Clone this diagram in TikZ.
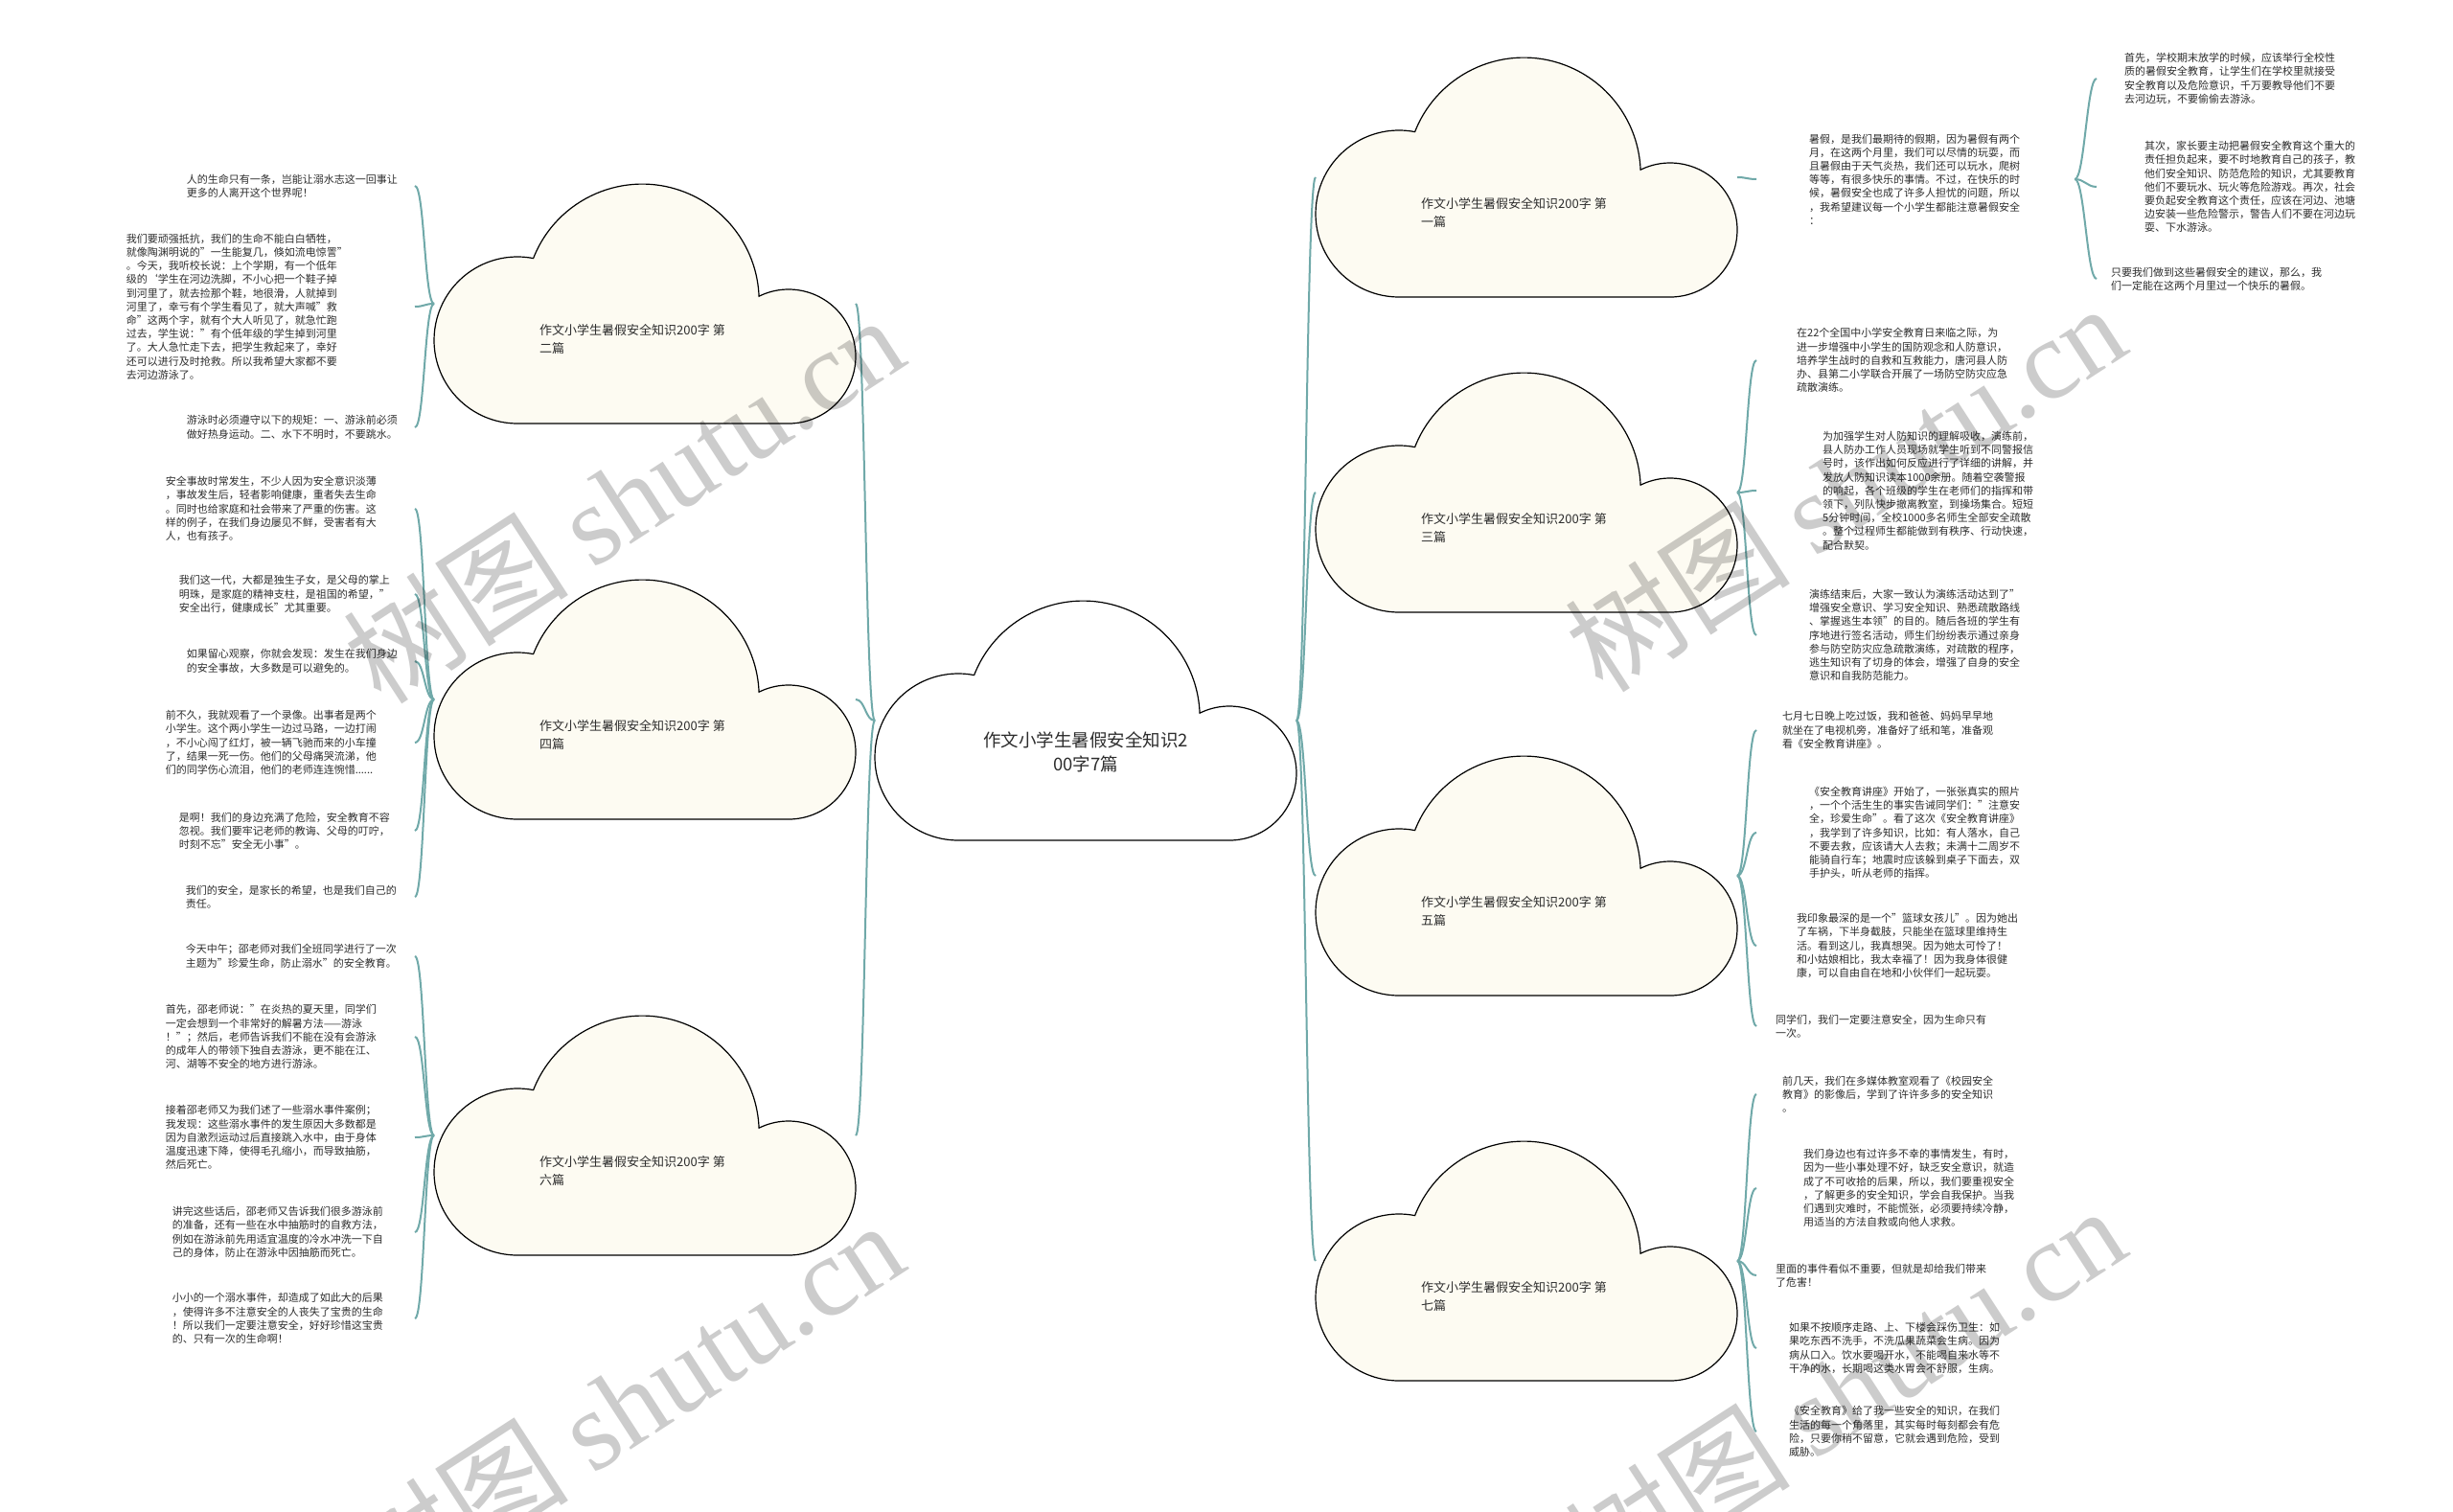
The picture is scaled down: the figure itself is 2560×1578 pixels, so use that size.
\documentclass[tikz,border=0pt]{standalone}
\usepackage{fontspec}
\setmainfont{Noto Sans CJK SC}
\newfontfamily\cjkwm{Noto Sans CJK SC}
\newfontfamily\wmserif{Liberation Serif}
\usetikzlibrary{calc}
\definecolor{connc}{RGB}{112,169,169}
\definecolor{cloudfill}{RGB}{253,251,242}
\definecolor{txtc}{RGB}{45,45,45}
\newcommand\drawcloud[2]{%
  \begin{scope}[shift={(#1.north west)}]
    \draw[cloudline, fill=#2] (87,250) arc[start angle=90, end angle=281, radius=87]
      arc[start angle=201.4, end angle=357.7, radius=122]
      arc[start angle=243.8, end angle=450, radius=70] -- cycle;
  \end{scope}}
\newcommand\linkL[2]{\draw[conn] (#1.west) .. controls +(-10,0) and +(10,0) .. (#2.east);}
\newcommand\linkR[2]{\draw[conn] (#1.east) .. controls +(10,0) and +(-10,0) .. (#2.west);}
\begin{document}
\begin{tikzpicture}[x=1pt,y=-1pt,
  cbox/.style={minimum width=440pt, minimum height=250pt, inner sep=0pt, outer sep=0pt},
  cloudline/.style={draw=black, line width=1.2pt},
  clabel/.style={font=\fontsize{13}{19}\selectfont, text=txtc, align=left, inner sep=0pt, anchor=north west},
  txt/.style={font=\fontsize{11}{14.2}\selectfont, text=txtc, align=left, text width=222pt, inner ysep=0pt},
  lefttxt/.style={txt, anchor=east, inner xsep=#1},
  righttxt/.style={txt, anchor=west, inner xsep=#1},
  conn/.style={draw=connc, line width=2pt},
  wm/.style={font=\fontsize{118}{118}\selectfont, text=black, text opacity=0.2, inner sep=0pt, rotate=33}
]
\fill[white] (0,0) rectangle (2560,1578);
\useasboundingbox (0,0) rectangle (2560,1578);

% cloud boxes
\node[cbox] (c0) at (1133,752) {};
\node[cbox] (c1) at (1593,185) {};
\node[cbox] (c2) at (673,317) {};
\node[cbox] (c3) at (1593,514) {};
\node[cbox] (c4) at (673,730) {};
\node[cbox] (c5) at (1593,914) {};
\node[cbox] (c6) at (673,1185) {};
\node[cbox] (c7) at (1593,1316) {};

% left texts: cloud 2
\node[lefttxt=16pt] (a1) at (433,194) {人的生命只有一条，岂能让溺水志这一回事让\\更多的人离开这个世界呢！};
\node[lefttxt=79pt] (a2) at (433,320) {我们要顽强抵抗，我们的生命不能白白牺牲，\\就像陶渊明说的"一生能复几，倏如流电惊詈"\\。今天，我听校长说：上个学期，有一个低年\\级的`学生在河边洗脚，不小心把一个鞋子掉\\到河里了，就去捡那个鞋，地很滑，人就掉到\\河里了，幸亏有个学生看见了，就大声喊"救\\命"这两个字，就有个大人听见了，就急忙跑\\过去，学生说："有个低年级的学生掉到河里\\了。大人急忙走下去，把学生救起来了，幸好\\还可以进行及时抢救。所以我希望大家都不要\\去河边游泳了。};
\node[lefttxt=16pt] (a3) at (433,446) {游泳时必须遵守以下的规矩：一、游泳前必须\\做好热身运动。二、水下不明时，不要跳水。};

% cloud 4
\node[lefttxt=38pt] (b1) at (433,531) {安全事故时常发生，不少人因为安全意识淡薄\\，事故发生后，轻者影响健康，重者失去生命\\。同时也给家庭和社会带来了严重的伤害。这\\样的例子，在我们身边屡见不鲜，受害者有大\\人，也有孩子。};
\node[lefttxt=24pt] (b2) at (433,620) {我们这一代，大都是独生子女，是父母的掌上\\明珠，是家庭的精神支柱，是祖国的希望，"\\安全出行，健康成长"尤其重要。};
\node[lefttxt=16pt] (b3) at (433,690) {如果留心观察，你就会发现：发生在我们身边\\的安全事故，大多数是可以避免的。};
\node[lefttxt=38pt] (b4) at (433,775) {前不久，我就观看了一个录像。出事者是两个\\小学生。这个两小学生一边过马路，一边打闹\\，不小心闯了红灯，被一辆飞驰而来的小车撞\\了，结果一死一伤。他们的父母痛哭流涕，他\\们的同学伤心流泪，他们的老师连连惋惜......};
\node[lefttxt=24pt] (b5) at (433,867) {是啊！我们的身边充满了危险，安全教育不容\\忽视。我们要牢记老师的教诲、父母的叮咛，\\时刻不忘"安全无小事"。};
\node[lefttxt=17pt] (b6) at (433,936) {我们的安全，是家长的希望，也是我们自己的\\责任。};

% cloud 6
\node[lefttxt=17pt] (d1) at (433,998) {今天中午；邵老师对我们全班同学进行了一次\\主题为"珍爱生命，防止溺水"的安全教育。};
\node[lefttxt=38pt] (d2) at (433,1082) {首先，邵老师说："在炎热的夏天里，同学们\\一定会想到一个非常好的解暑方法——游泳\\！"；然后，老师告诉我们不能在没有会游泳\\的成年人的带领下独自去游泳，更不能在江、\\河、湖等不安全的地方进行游泳。};
\node[lefttxt=38pt] (d3) at (433,1187) {接着邵老师又为我们述了一些溺水事件案例；\\我发现：这些溺水事件的发生原因大多数都是\\因为自激烈运动过后直接跳入水中，由于身体\\温度迅速下降，使得毛孔缩小，而导致抽筋，\\然后死亡。};
\node[lefttxt=31pt] (d4) at (433,1286) {讲完这些话后，邵老师又告诉我们很多游泳前\\的准备，还有一些在水中抽筋时的自救方法，\\例如在游泳前先用适宜温度的冷水冲洗一下自\\己的身体，防止在游泳中因抽筋而死亡。};
\node[lefttxt=31pt] (d5) at (433,1376) {小小的一个溺水事件，却造成了如此大的后果\\，使得许多不注意安全的人丧失了宝贵的生命\\！所以我们一定要注意安全，好好珍惜这宝贵\\的、只有一次的生命啊！};

% right: cloud 1
\node[righttxt=55pt] (t1) at (1833,187) {暑假，是我们最期待的假期，因为暑假有两个\\月，在这两个月里，我们可以尽情的玩耍，而\\且暑假由于天气炎热，我们还可以玩水，爬树\\等等，有很多快乐的事情。不过，在快乐的时\\候，暑假安全也成了许多人担忧的问题，所以\\，我希望建议每一个小学生都能注意暑假安全\\：};
\node[righttxt=29pt] (t1a) at (2188,82) {首先，学校期末放学的时候，应该举行全校性\\质的暑假安全教育，让学生们在学校里就接受\\安全教育以及危险意识，千万要教导他们不要\\去河边玩，不要偷偷去游泳。};
\node[righttxt=50pt] (t1b) at (2188,195) {其次，家长要主动把暑假安全教育这个重大的\\责任担负起来，要不时地教育自己的孩子，教\\他们安全知识、防范危险的知识，尤其要教育\\他们不要玩水、玩火等危险游戏。再次，社会\\要负起安全教育这个责任，应该在河边、池塘\\边安装一些危险警示，警告人们不要在河边玩\\耍、下水游泳。};
\node[righttxt=15pt] (t1c) at (2188,291) {只要我们做到这些暑假安全的建议，那么，我\\们一定能在这两个月里过一个快乐的暑假。};

% cloud 3
\node[righttxt=42pt] (e1) at (1833,376) {在22个全国中小学安全教育日来临之际，为\\进一步增强中小学生的国防观念和人防意识，\\培养学生战时的自救和互救能力，唐河县人防\\办、县第二小学联合开展了一场防空防灾应急\\疏散演练。};
\node[righttxt=69pt] (e2) at (1833,512) {为加强学生对人防知识的理解吸收，演练前，\\县人防办工作人员现场就学生听到不同警报信\\号时，该作出如何反应进行了详细的讲解，并\\发放人防知识读本1000余册。随着空袭警报\\的响起，各个班级的学生在老师们的指挥和带\\领下，列队快步撤离教室，到操场集合。短短\\5分钟时间，全校1000多名师生全部安全疏散\\。整个过程师生都能做到有秩序、行动快速，\\配合默契。};
\node[righttxt=55pt] (e3) at (1833,663) {演练结束后，大家一致认为演练活动达到了"\\增强安全意识、学习安全知识、熟悉疏散路线\\、掌握逃生本领"的目的。随后各班的学生有\\序地进行签名活动，师生们纷纷表示通过亲身\\参与防空防灾应急疏散演练，对疏散的程序，\\逃生知识有了切身的体会，增强了自身的安全\\意识和自我防范能力。};

% cloud 5
\node[righttxt=27pt] (f1) at (1833,762) {七月七日晚上吃过饭，我和爸爸、妈妈早早地\\就坐在了电视机旁，准备好了纸和笔，准备观\\看《安全教育讲座》。};
\node[righttxt=55pt] (f2) at (1833,869) {《安全教育讲座》开始了，一张张真实的照片\\，一个个活生生的事实告诫同学们："注意安\\全，珍爱生命"。看了这次《安全教育讲座》\\，我学到了许多知识，比如：有人落水，自己\\不要去救，应该请大人去救；未满十二周岁不\\能骑自行车；地震时应该躲到桌子下面去，双\\手护头，听从老师的指挥。};
\node[righttxt=42pt] (f3) at (1833,987) {我印象最深的是一个"篮球女孩儿"。因为她出\\了车祸，下半身截肢，只能坐在篮球里维持生\\活。看到这儿，我真想哭。因为她太可怜了！\\和小姑娘相比，我太幸福了！因为我身体很健\\康，可以自由自在地和小伙伴们一起玩耍。};
\node[righttxt=20pt] (f4) at (1833,1071) {同学们，我们一定要注意安全，因为生命只有\\一次。};

% cloud 7
\node[righttxt=27pt] (g1) at (1833,1142) {前几天，我们在多媒体教室观看了《校园安全\\教育》的影像后，学到了许许多多的安全知识\\。};
\node[righttxt=49pt] (g2) at (1833,1240) {我们身边也有过许多不幸的事情发生，有时，\\因为一些小事处理不好，缺乏安全意识，就造\\成了不可收拾的后果，所以，我们要重视安全\\，了解更多的安全知识，学会自我保护。当我\\们遇到灾难时，不能慌张，必须要持续冷静，\\用适当的方法自救或向他人求救。};
\node[righttxt=20pt] (g3) at (1833,1331) {里面的事件看似不重要，但就是却给我们带来\\了危害！};
\node[righttxt=34pt] (g4) at (1833,1407) {如果不按顺序走路、上、下楼会踩伤卫生：如\\果吃东西不洗手，不洗瓜果蔬菜会生病。因为\\病从口入。饮水要喝开水，不能喝自来水等不\\干净的水，长期喝这类水胃会不舒服，生病。};
\node[righttxt=34pt] (g5) at (1833,1494) {《安全教育》给了我一些安全的知识，在我们\\生活的每一个角落里，其实每时每刻都会有危\\险，只要你稍不留意，它就会遇到危险，受到\\威胁。};

% connectors
\linkL{c0}{c2} \linkL{c0}{c4} \linkL{c0}{c6}
\linkR{c0}{c1} \linkR{c0}{c3} \linkR{c0}{c5} \linkR{c0}{c7}
\linkL{c2}{a1} \linkL{c2}{a2} \linkL{c2}{a3}
\linkL{c4}{b1} \linkL{c4}{b2} \linkL{c4}{b3} \linkL{c4}{b4} \linkL{c4}{b5} \linkL{c4}{b6}
\linkL{c6}{d1} \linkL{c6}{d2} \linkL{c6}{d3} \linkL{c6}{d4} \linkL{c6}{d5}
\linkR{c1}{t1}
\linkR{t1}{t1a} \linkR{t1}{t1b} \linkR{t1}{t1c}
\linkR{c3}{e1} \linkR{c3}{e2} \linkR{c3}{e3}
\linkR{c5}{f1} \linkR{c5}{f2} \linkR{c5}{f3} \linkR{c5}{f4}
\linkR{c7}{g1} \linkR{c7}{g2} \linkR{c7}{g3} \linkR{c7}{g4} \linkR{c7}{g5}

% clouds
\drawcloud{c0}{white}
\drawcloud{c1}{cloudfill}
\drawcloud{c2}{cloudfill}
\drawcloud{c3}{cloudfill}
\drawcloud{c4}{cloudfill}
\drawcloud{c5}{cloudfill}
\drawcloud{c6}{cloudfill}
\drawcloud{c7}{cloudfill}

% cloud labels
\node[font=\fontsize{18.5}{25}\selectfont, text=txtc, align=center, inner sep=0pt] (c0t) at (1133,785) {作文小学生暑假安全知识2\\00字7篇};
\node[clabel] (c1t) at ($(c1.north west)+(110,146)$) {作文小学生暑假安全知识200字 第\\一篇};
\node[clabel] (c2t) at ($(c2.north west)+(110,146)$) {作文小学生暑假安全知识200字 第\\二篇};
\node[clabel] (c3t) at ($(c3.north west)+(110,146)$) {作文小学生暑假安全知识200字 第\\三篇};
\node[clabel] (c4t) at ($(c4.north west)+(110,146)$) {作文小学生暑假安全知识200字 第\\四篇};
\node[clabel] (c5t) at ($(c5.north west)+(110,146)$) {作文小学生暑假安全知识200字 第\\五篇};
\node[clabel] (c6t) at ($(c6.north west)+(110,146)$) {作文小学生暑假安全知识200字 第\\六篇};
\node[clabel] (c7t) at ($(c7.north west)+(110,146)$) {作文小学生暑假安全知识200字 第\\七篇};

% watermarks
\begin{scope}
\clip (0,0) rectangle (2560,1578);
\node[wm] (w1) at (650,520) {{\cjkwm 树图} {\wmserif shutu.cn}};
\node[wm] (w2) at (1925,508) {{\cjkwm 树图} {\wmserif shutu.cn}};
\node[wm] (w3) at (650,1465) {{\cjkwm 树图} {\wmserif shutu.cn}};
\node[wm] (w4) at (1925,1450) {{\cjkwm 树图} {\wmserif shutu.cn}};
\end{scope}
\end{tikzpicture}
\end{document}
